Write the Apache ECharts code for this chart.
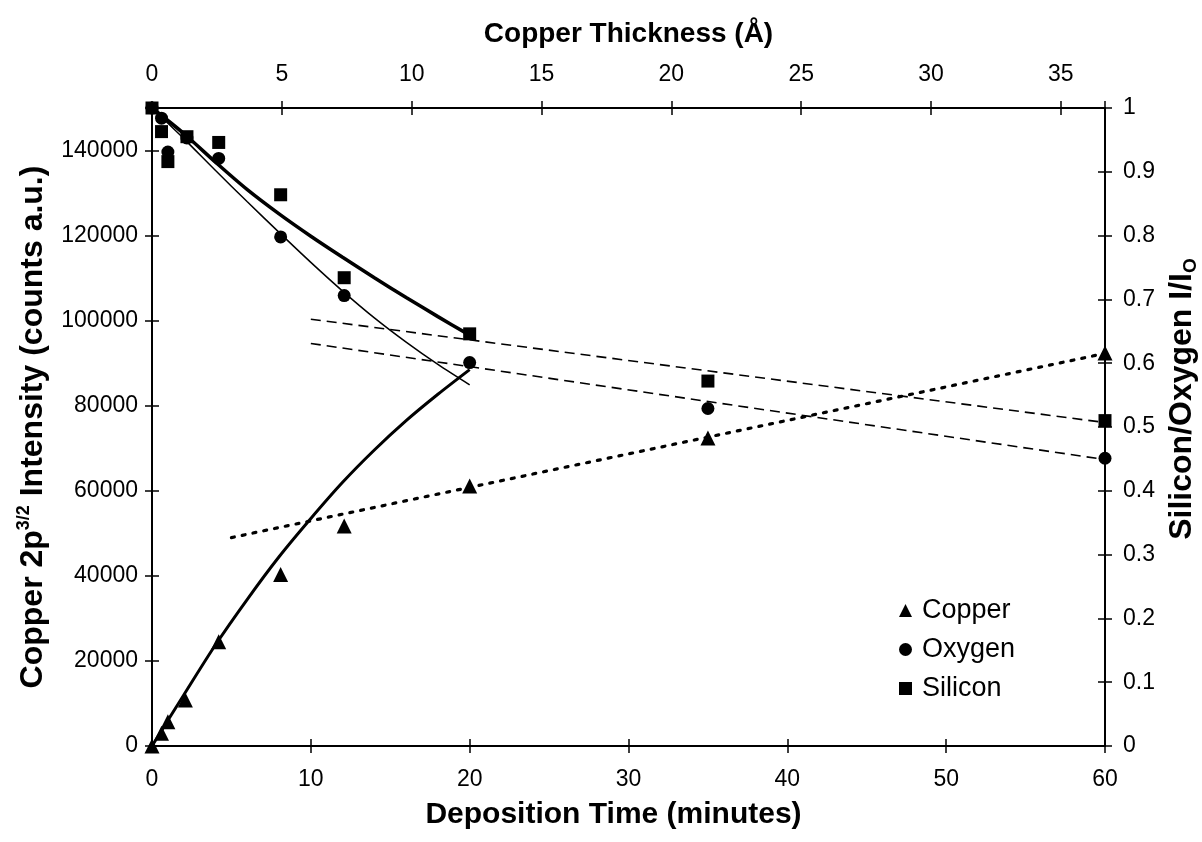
<!DOCTYPE html>
<html><head><meta charset="utf-8">
<script src="https://cdn.jsdelivr.net/npm/echarts@6/dist/echarts.min.js"></script>
<style>html,body{margin:0;padding:0;background:#fff}#c{width:1202px;height:842px}</style>
</head><body><div id="c"></div>
<script>
// ---- data ----
const thicknessMax = 36.7;            // Å at 60 min (top axis)
const copperTime = [0, 0.6, 1, 2.1, 4.2, 8.1, 12.1, 20, 35, 60];
const copperIntensity = [0, 3000, 5700, 10800, 24500, 40300, 51700, 61100, 72400, 92400];
const oxygenTime = [0, 0.6, 1, 2.2, 4.2, 8.1, 12.1, 20, 35, 60];
const oxygenRatio = [1.0, 0.984, 0.931, 0.953, 0.921, 0.798, 0.706, 0.601, 0.529, 0.451];
const siliconTime = [0, 0.6, 1, 2.2, 4.2, 8.1, 12.1, 20, 35, 60];
const siliconRatio = [1.0, 0.963, 0.916, 0.955, 0.946, 0.864, 0.734, 0.646, 0.572, 0.510];
// fitted curves
const fitTime = [0, 2, 4, 6, 8, 10, 12, 14, 16, 18, 20];
const copperFitIntensity = [0, 12000, 23800, 34500, 44500, 53500, 62000, 69600, 76500, 82700, 88500];
const siliconFitRatio = [1.0, 0.960, 0.915, 0.872, 0.834, 0.799, 0.766, 0.734, 0.703, 0.673, 0.644];
const oxygenFitRatio = [1.0, 0.952, 0.902, 0.853, 0.805, 0.758, 0.713, 0.671, 0.633, 0.598, 0.566];
const siliconLinTime = [10, 60];
const siliconLinRatio = [0.669, 0.507];
const oxygenLinTime = [10, 60];
const oxygenLinRatio = [0.631, 0.449];
const copperLinTime = [5, 60];
const copperLinIntensity = [49000, 92300];

const zip = (a, b) => a.map((v, i) => [v, b[i]]);
const FONT = "'Liberation Sans', Arial, Helvetica, sans-serif";
const INK = '#000';
const T = 7; // half tick length: ticks cross the axis line

const noLine = { show: false, onZero: false };
const tick = { show: true, length: 2 * T, lineStyle: { color: INK, width: 1.5 } };
const label = { color: INK, fontSize: 23, fontFamily: FONT };
const bold = (s) => ({ color: INK, fontSize: s, fontWeight: 'bold', fontFamily: FONT });

const chart = echarts.init(document.getElementById('c'));
chart.setOption({
  animation: false,
  backgroundColor: '#fff',
  textStyle: { fontFamily: FONT },
  grid: { left: 152, right: 97, top: 108, bottom: 96, outerBoundsMode: 'none', containLabel: false,
          show: true, borderColor: INK, borderWidth: 2, backgroundColor: 'transparent' },
  legend: {
    data: ['Copper', 'Oxygen', 'Silicon'],
    orient: 'vertical', left: 894, top: 592, itemWidth: 13, itemHeight: 13, itemGap: 12,
    textStyle: { color: INK, fontSize: 27, fontFamily: FONT, padding: [0, 0, 0, 5] }
  },
  xAxis: [
    { type: 'value', position: 'bottom', offset: -T, min: 0, max: 60, interval: 10,
      name: 'Deposition Time (minutes)', nameLocation: 'middle', nameGap: 54 + T,
      nameTextStyle: Object.assign({ padding: [0, 30, 0, 0] }, bold(30)),
      axisLine: noLine, axisTick: tick, axisLabel: Object.assign({ margin: 22 + T }, label), splitLine: { show: false } },
    { type: 'value', position: 'top', offset: -T, min: 0, max: thicknessMax, interval: 5,
      name: 'Copper Thickness (Å)', nameLocation: 'middle', nameGap: 60 + T, nameTextStyle: bold(28),
      axisLine: noLine, axisTick: tick,
      axisLabel: Object.assign({ margin: 22 + T, formatter: v => (Math.abs(v % 5) < 1e-9 ? String(v) : '') }, label),
      splitLine: { show: false } }
  ],
  yAxis: [
    { type: 'value', position: 'left', offset: -T, min: 0, max: 150000, interval: 20000,
      name: '{t|Copper 2p}{s|3/2}{t| Intensity (counts a.u.)}', nameLocation: 'middle', nameRotate: 90, nameGap: 101 + T,
      nameTextStyle: { rich: {
        t: { fontSize: 32, fontWeight: 'bold', fontFamily: FONT, color: INK, lineHeight: 36 },
        s: { fontSize: 18, fontWeight: 'bold', fontFamily: FONT, color: INK, lineHeight: 18, verticalAlign: 'top' } } },
      axisLine: noLine, axisTick: tick,
      axisLabel: Object.assign({ margin: 14 + T, formatter: v => (v % 20000 === 0 ? String(v) : '') }, label),
      splitLine: { show: false } },
    { type: 'value', position: 'right', offset: -T, min: 0, max: 1, interval: 0.1,
      name: '{t|Silicon/Oxygen I/I}{o|O}', nameLocation: 'middle', nameRotate: 90, nameGap: 57 + T,
      nameTextStyle: { padding: [0, 0, 0, 56], rich: {
        t: { fontSize: 32, fontWeight: 'bold', fontFamily: FONT, color: INK, lineHeight: 36 },
        o: { fontSize: 19, fontWeight: 'bold', fontFamily: FONT, color: INK, lineHeight: 19, verticalAlign: 'bottom' } } },
      axisLine: noLine, axisTick: tick,
      axisLabel: Object.assign({ margin: 18 + T }, label), splitLine: { show: false } }
  ],
  series: [
    { name: 'Copper fit', type: 'line', yAxisIndex: 0, data: zip(fitTime, copperFitIntensity),
      smooth: 0.3, symbol: 'none', silent: true, lineStyle: { color: INK, width: 3 }, z: 2 },
    { name: 'Silicon fit', type: 'line', yAxisIndex: 1, data: zip(fitTime, siliconFitRatio),
      smooth: 0.3, symbol: 'none', silent: true, lineStyle: { color: INK, width: 3.5 }, z: 2 },
    { name: 'Oxygen fit', type: 'line', yAxisIndex: 1, data: zip(fitTime, oxygenFitRatio),
      smooth: 0.3, symbol: 'none', silent: true, lineStyle: { color: INK, width: 1.5 }, z: 2 },
    { name: 'Silicon trend', type: 'line', yAxisIndex: 1, data: zip(siliconLinTime, siliconLinRatio),
      symbol: 'none', silent: true, lineStyle: { color: INK, width: 1.6, type: [10, 6] }, z: 2 },
    { name: 'Oxygen trend', type: 'line', yAxisIndex: 1, data: zip(oxygenLinTime, oxygenLinRatio),
      symbol: 'none', silent: true, lineStyle: { color: INK, width: 1.6, type: [10, 6] }, z: 2 },
    { name: 'Copper trend', type: 'line', yAxisIndex: 0, data: zip(copperLinTime, copperLinIntensity),
      symbol: 'none', silent: true, lineStyle: { color: INK, width: 3.2, type: [3, 8], cap: 'round' }, z: 2 },
    { name: 'Copper', type: 'scatter', yAxisIndex: 0, data: zip(copperTime, copperIntensity),
      symbol: 'triangle', symbolSize: 15, itemStyle: { color: INK, opacity: 1 }, z: 5 },
    { name: 'Oxygen', type: 'scatter', yAxisIndex: 1, data: zip(oxygenTime, oxygenRatio),
      symbol: 'circle', symbolSize: 13, itemStyle: { color: INK, opacity: 1 }, z: 5 },
    { name: 'Silicon', type: 'scatter', yAxisIndex: 1, data: zip(siliconTime, siliconRatio),
      symbol: 'rect', symbolSize: 13, itemStyle: { color: INK, opacity: 1 }, z: 6 }
  ]
});
</script></body></html>
